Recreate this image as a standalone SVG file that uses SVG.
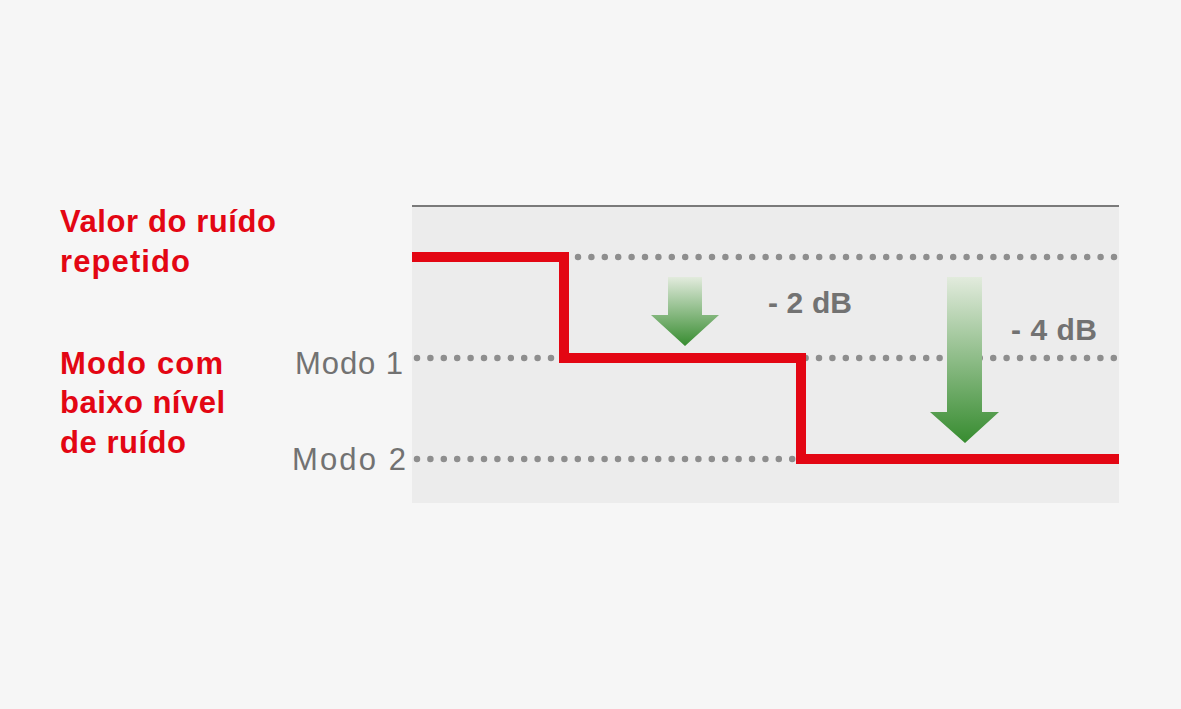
<svg xmlns="http://www.w3.org/2000/svg" width="1181" height="709" viewBox="0 0 1181 709">
  <defs>
    <linearGradient id="g" x1="0" y1="0" x2="0" y2="1">
      <stop offset="0" stop-color="#e2ebdd"/>
      <stop offset="1" stop-color="#378c30"/>
    </linearGradient>
    <style>
      .red{font-family:"Liberation Sans",Arial,sans-serif;font-weight:bold;font-size:31px;fill:#e30613}
      .mode{font-family:"Liberation Sans",Arial,sans-serif;font-size:31px;fill:#727272}
      .db{font-family:"Liberation Sans",Arial,sans-serif;font-weight:bold;font-size:30px;fill:#727272}
      .dots{stroke:#8e8e8e;stroke-width:6.5;stroke-linecap:round;stroke-dasharray:0 13.4;fill:none}
    </style>
  </defs>
  <rect width="1181" height="709" fill="#f6f6f6"/>
  <g id="panel">
    <rect x="412" y="206" width="707" height="297" fill="#ececec"/>
    <line x1="412" y1="206" x2="1119" y2="206" stroke="#7a7a7a" stroke-width="2"/>
  </g>
  <g id="connectors">
    <line class="dots" x1="578" y1="257" x2="1119" y2="257"/>
    <line class="dots" x1="417" y1="358" x2="1119" y2="358"/>
    <line class="dots" x1="417" y1="459" x2="1119" y2="459"/>
    <polyline points="412,257 564,257 564,358 801,358 801,459 1119,459" fill="none" stroke="#e30613" stroke-width="10"/>
  </g>
  <g id="arrow1">
    <polygon points="668,277 702,277 702,315 719,315 685,346 651,315 668,315" fill="url(#g)"/>
  </g>
  <g id="arrow2">
    <polygon points="947,277 982,277 982,412 999,412 965,443 930,412 947,412" fill="url(#g)"/>
  </g>
  <g id="labels">
    <text class="red" x="60" y="232" textLength="216" lengthAdjust="spacing">Valor do ruído</text>
    <text class="red" x="60" y="272" textLength="130" lengthAdjust="spacing">repetido</text>
    <text class="red" x="60" y="374" textLength="163" lengthAdjust="spacing">Modo com</text>
    <text class="red" x="60" y="413" textLength="165" lengthAdjust="spacing">baixo nível</text>
    <text class="red" x="60" y="453" textLength="126" lengthAdjust="spacing">de ruído</text>
    <text class="mode" x="295" y="374" textLength="108" lengthAdjust="spacing">Modo 1</text>
    <text class="mode" x="292" y="470" textLength="114" lengthAdjust="spacing">Modo 2</text>
    <text class="db" x="768" y="313" textLength="84" lengthAdjust="spacing">- 2 dB</text>
    <text class="db" x="1011" y="340" textLength="86" lengthAdjust="spacing">- 4 dB</text>
  </g>
</svg>
